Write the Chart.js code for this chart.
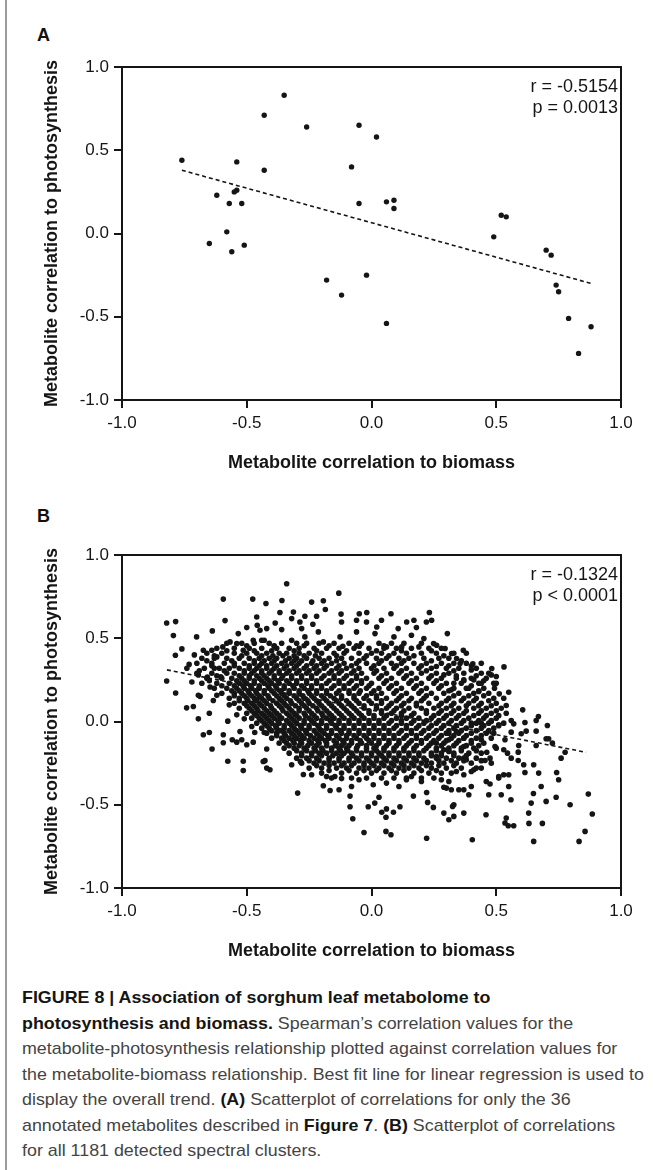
<!DOCTYPE html>
<html>
<head>
<meta charset="utf-8">
<script src="https://cdn.jsdelivr.net/npm/chart.js@4.4.1/dist/chart.umd.min.js"></script>
<style>
  body { margin: 0; background: #fff; width: 655px; height: 1170px; position: relative; overflow: hidden;
         font-family: 'Liberation Sans', Arial, sans-serif; }
  .edge { position: absolute; left: 5px; top: 0; width: 2px; height: 1170px; background: #9c9c9c; }
  canvas { position: absolute; left: 0; }
  .tag { position: absolute; left: 37px; font-weight: bold; font-size: 18px; line-height: 20px; color: #111; }
  #cap { position: absolute; left: 22px; top: 985px; font-size: 17px; line-height: 25.5px; color: #444;
         transform-origin: 0 0; }
  #cap .ln { white-space: nowrap; width: max-content; }
  #cap b { color: #151515; }
</style>
</head>
<body>
<div class="edge"></div>
<div class="tag" style="top:25px">A</div>
<canvas id="chartA" width="655" height="480" style="top:0"></canvas>
<div class="tag" style="top:506px">B</div>
<canvas id="chartB" width="655" height="480" style="top:488px"></canvas>
<div id="cap">
  <div class="ln"><b>FIGURE 8 | Association of sorghum leaf metabolome to</b></div>
  <div class="ln"><b>photosynthesis and biomass.</b> Spearman’s correlation values for the</div>
  <div class="ln">metabolite-photosynthesis relationship plotted against correlation values for</div>
  <div class="ln" id="longest">the metabolite-biomass relationship. Best fit line for linear regression is used to</div>
  <div class="ln">display the overall trend. <b>(A)</b> Scatterplot of correlations for only the 36</div>
  <div class="ln">annotated metabolites described in <b>Figure 7</b>. <b>(B)</b> Scatterplot of correlations</div>
  <div class="ln">for all 1181 detected spectral clusters.</div>
</div>
<script>
// ---- panel A: 36 annotated metabolites ----
const aX = [-0.76, -0.35, -0.43, -0.26, -0.05, 0.02, -0.54, -0.43, -0.08, -0.62, -0.55, -0.54,
            -0.57, -0.52, -0.05, 0.06, 0.09, 0.09, -0.58, -0.65, -0.56, -0.51, 0.52, 0.54,
            0.49, 0.70, 0.72, 0.74, 0.75, -0.18, -0.02, -0.12, 0.06, 0.79, 0.88, 0.83];
const aY = [0.44, 0.83, 0.71, 0.64, 0.65, 0.58, 0.43, 0.38, 0.40, 0.23, 0.25, 0.26,
            0.18, 0.18, 0.18, 0.19, 0.20, 0.15, 0.01, -0.06, -0.11, -0.07, 0.11, 0.10,
            -0.02, -0.10, -0.13, -0.31, -0.35, -0.28, -0.25, -0.37, -0.54, -0.51, -0.56, -0.72];
const fitAX = [-0.76, 0.88];
const fitAY = [0.38, -0.30];
const statsA = ['r = -0.5154', 'p = 0.0013'];

// ---- panel B: all spectral clusters ----
// sparse points around the cloud, [x, y]
const bLeft = [[-0.821,0.592],[-0.785,0.60],[-0.594,0.735],[-0.476,0.735],[-0.587,0.606],[-0.794,0.516],
  [-0.701,0.508],[-0.638,0.544],[-0.76,0.436],[-0.786,0.398],[-0.821,0.243],[-0.785,0.171],[-0.731,0.343],
  [-0.72,0.237],[-0.694,0.28],[-0.674,0.428],[-0.658,0.267],[-0.71,0.40],[-0.687,0.151],[-0.647,0.207],
  [-0.64,0.428],[-0.62,0.388],[-0.63,0.32],[-0.604,0.268],[-0.596,0.448],[-0.567,0.478],[-0.54,0.468],
  [-0.534,0.528],[-0.514,0.428],[-0.5,0.564],[-0.474,0.488],[-0.46,0.628],[-0.458,0.578],[-0.447,0.548],
  [-0.44,0.488],[-0.741,0.082],[-0.714,0.09],[-0.694,0.016],[-0.694,0.157],[-0.65,0.05],[-0.674,-0.08],
  [-0.65,-0.066],[-0.639,-0.165],[-0.594,-0.08],[-0.594,-0.128],[-0.576,0.002],[-0.576,-0.239],[-0.558,-0.11],
  [-0.54,-0.124],[-0.527,-0.06],[-0.52,-0.11],[-0.514,-0.239],[-0.514,-0.295],[-0.5,-0.14],[-0.474,-0.124],
  [-0.468,-0.066],[-0.48,-0.03],[-0.427,-0.235],[-0.42,-0.28],[-0.43,-0.066],[-0.42,-0.165],[-0.634,0.126],
  [-0.62,0.157],[-0.57,0.1],[-0.54,0.04],[-0.51,0.016],[-0.46,0.13]];
const bTop = [[-0.34,0.827],[-0.131,0.771],[-0.423,0.709],[-0.359,0.727],[-0.24,0.717],[-0.193,0.725],
  [-0.185,0.673],[-0.367,0.655],[-0.313,0.657],[-0.32,0.618],[-0.267,0.632],[-0.22,0.632],[-0.122,0.645],
  [-0.049,0.647],[-0.019,0.655],[0.078,0.647],[0.232,0.655],[-0.386,0.592],[-0.42,0.558],[-0.36,0.552],
  [-0.287,0.598],[-0.28,0.558],[-0.235,0.584],[-0.213,0.538],[-0.12,0.598],[-0.126,0.508],[-0.06,0.608],
  [-0.06,0.538],[-0.02,0.598],[0.021,0.568],[0.04,0.608],[0.014,0.528],[0.09,0.508],[0.107,0.558],
  [0.141,0.598],[0.17,0.608],[0.18,0.564],[0.22,0.598],[0.16,0.518],[0.21,0.498],[0.249,0.468],
  [-0.43,0.488],[-0.39,0.452],[-0.32,0.488],[-0.267,0.508],[-0.193,0.478],[-0.115,0.452],[-0.049,0.452],
  [0.06,0.448],[0.121,0.448],[0.19,0.448]];
const bRight = [[0.304,0.528],[0.261,0.458],[0.295,0.438],[0.321,0.408],[0.368,0.428],[0.341,0.378],
  [0.355,0.348],[0.406,0.346],[0.40,0.31],[0.482,0.318],[0.531,0.328],[0.5,0.27],[0.48,0.28],[0.49,0.23],
  [0.493,0.2],[0.512,0.166],[0.55,0.176],[0.44,0.23],[0.41,0.25],[0.37,0.25],[0.39,0.2],[0.33,0.23],
  [0.29,0.28],[0.26,0.33],[0.32,0.19],[0.43,0.18],[0.241,0.608]];
const bBottom = [[-0.296,-0.43],[-0.086,-0.448],[-0.086,-0.512],[-0.075,-0.584],[-0.03,-0.667],[-0.013,-0.512],
  [0.013,-0.49],[0.03,-0.455],[0.041,-0.545],[0.058,-0.575],[0.06,-0.525],[0.088,-0.545],[0.114,-0.512],
  [0.058,-0.66],[0.078,-0.68],[0.168,-0.448],[0.221,-0.701],[0.221,-0.426],[0.248,-0.516],[0.225,-0.486],
  [-0.193,-0.386],[-0.166,-0.414],[-0.13,-0.41],[-0.12,-0.343],[-0.08,-0.39],[-0.05,-0.35],[0.007,-0.38],
  [0.06,-0.37],[0.11,-0.39],[0.14,-0.35],[0.16,-0.33],[0.2,-0.36],[-0.273,-0.318],[-0.24,-0.32],
  [-0.434,-0.24],[-0.407,-0.29],[-0.32,-0.26],[-0.285,-0.24],[-0.18,-0.33],[-0.147,-0.33]];
const bLowerRight = [[0.606,0.07],[0.669,0.03],[0.66,0.006],[0.705,-0.024],[0.70,-0.104],[0.71,-0.104],
  [0.725,-0.13],[0.776,-0.185],[0.76,-0.22],[0.66,-0.144],[0.66,-0.058],[0.615,-0.006],[0.62,-0.058],
  [0.60,-0.074],[0.57,-0.014],[0.56,0.006],[0.54,0.096],[0.56,-0.064],[0.59,-0.144],[0.588,-0.184],
  [0.588,-0.234],[0.61,-0.26],[0.615,-0.306],[0.65,-0.26],[0.67,-0.31],[0.742,-0.306],[0.75,-0.35],
  [0.68,-0.39],[0.649,-0.432],[0.70,-0.48],[0.74,-0.455],[0.64,-0.49],[0.63,-0.55],[0.631,-0.612],
  [0.685,-0.612],[0.796,-0.50],[0.869,-0.436],[0.885,-0.556],[0.856,-0.66],[0.832,-0.72],[0.65,-0.72],
  [0.559,-0.47],[0.55,-0.39],[0.52,-0.44],[0.47,-0.44],[0.46,-0.36],[0.475,-0.375],[0.51,-0.34],
  [0.53,-0.32],[0.55,-0.32],[0.548,-0.626],[0.54,-0.58],[0.535,-0.61],[0.57,-0.626],[0.459,-0.56],
  [0.404,-0.71],[0.39,-0.44],[0.40,-0.39],[0.37,-0.55],[0.37,-0.41],[0.35,-0.41],[0.32,-0.41],
  [0.30,-0.40],[0.29,-0.395],[0.33,-0.57],[0.31,-0.59],[0.29,-0.55],[0.33,-0.50],[0.325,-0.51],
  [0.28,-0.35],[0.31,-0.36],[0.32,-0.31],[0.34,-0.30],[0.37,-0.32],[0.40,-0.30],[0.42,-0.28],
  [0.41,-0.29],[0.51,-0.33],[0.44,-0.11],[0.462,-0.185],[0.455,-0.234],[0.475,-0.22],[0.495,-0.15],
  [0.53,-0.17],[0.545,-0.19],[0.56,-0.22],[0.535,-0.11],[0.48,0.0],[0.51,-0.02],[0.49,-0.07],
  [0.40,-0.01],[0.44,-0.01],[0.37,-0.10],[0.37,-0.15],[0.37,-0.22],[0.38,-0.23],[0.26,-0.21],
  [0.29,-0.17],[0.31,-0.18],[0.26,-0.13],[0.31,-0.07],[0.34,-0.06],[0.31,-0.11]];

// dense core, read row by row: one y level, then the x positions on it
const bRowY = [0.47, 0.44, 0.41, 0.38, 0.35, 0.32, 0.29, 0.26, 0.23, 0.20, 0.17, 0.14, 0.11, 0.08,
               0.05, 0.02, -0.01, -0.04, -0.07, -0.10, -0.13, -0.16, -0.19, -0.22, -0.25, -0.28, -0.31, -0.34];
const bRowX = [
  [-0.58, -0.52, -0.47, -0.41, -0.36, -0.3, -0.26, -0.21, -0.15, -0.09, -0.04, 0.03, 0.08, 0.13, 0.2],
  [-0.62, -0.55, -0.49, -0.44, -0.38, -0.33, -0.29, -0.23, -0.18, -0.13, -0.07, -0.01, 0.05, 0.1, 0.16, 0.23, 0.28],
  [-0.66, -0.6, -0.55, -0.5, -0.46, -0.42, -0.37, -0.34, -0.29, -0.25, -0.2, -0.15, -0.11, -0.05, 0.0, 0.04, 0.09, 0.14, 0.2, 0.26, 0.33, 0.38],
  [-0.68, -0.63, -0.58, -0.53, -0.49, -0.45, -0.41, -0.38, -0.33, -0.3, -0.26, -0.21, -0.17, -0.12, -0.08, -0.03, 0.02, 0.06, 0.11, 0.15, 0.21, 0.27, 0.31],
  [-0.7, -0.64, -0.59, -0.55, -0.51, -0.47, -0.44, -0.4, -0.36, -0.32, -0.29, -0.24, -0.2, -0.16, -0.11, -0.06, -0.02, 0.03, 0.08, 0.12, 0.17, 0.22, 0.28, 0.33, 0.38, 0.44],
  [-0.74, -0.67, -0.61, -0.57, -0.53, -0.49, -0.46, -0.42, -0.39, -0.35, -0.31, -0.27, -0.23, -0.19, -0.14, -0.1, -0.05, 0.0, 0.05, 0.09, 0.14, 0.19, 0.24, 0.3, 0.35, 0.42],
  [-0.7, -0.64, -0.58, -0.55, -0.51, -0.48, -0.44, -0.41, -0.37, -0.34, -0.3, -0.26, -0.22, -0.17, -0.13, -0.08, -0.04, 0.01, 0.06, 0.11, 0.16, 0.2, 0.26, 0.31, 0.37, 0.44, 0.47],
  [-0.66, -0.6, -0.56, -0.52, -0.49, -0.45, -0.42, -0.39, -0.36, -0.32, -0.28, -0.24, -0.2, -0.15, -0.11, -0.06, -0.02, 0.03, 0.08, 0.13, 0.18, 0.23, 0.28, 0.34, 0.4, 0.46],
  [-0.68, -0.62, -0.57, -0.53, -0.5, -0.47, -0.43, -0.4, -0.37, -0.33, -0.3, -0.26, -0.22, -0.18, -0.13, -0.09, -0.04, 0.0, 0.05, 0.1, 0.15, 0.2, 0.25, 0.3, 0.36, 0.43, 0.5],
  [-0.63, -0.58, -0.54, -0.51, -0.48, -0.45, -0.41, -0.38, -0.35, -0.31, -0.27, -0.24, -0.2, -0.16, -0.11, -0.07, -0.02, 0.03, 0.07, 0.12, 0.17, 0.22, 0.27, 0.33, 0.38, 0.45],
  [-0.6, -0.55, -0.52, -0.49, -0.46, -0.43, -0.39, -0.36, -0.33, -0.29, -0.25, -0.22, -0.18, -0.14, -0.09, -0.05, 0.0, 0.04, 0.09, 0.14, 0.19, 0.24, 0.29, 0.35, 0.41, 0.47],
  [-0.57, -0.53, -0.5, -0.47, -0.44, -0.41, -0.37, -0.34, -0.3, -0.27, -0.23, -0.19, -0.15, -0.12, -0.07, -0.03, 0.02, 0.06, 0.11, 0.16, 0.21, 0.26, 0.31, 0.37, 0.42, 0.49, 0.53],
  [-0.55, -0.51, -0.48, -0.45, -0.42, -0.38, -0.35, -0.32, -0.28, -0.25, -0.21, -0.17, -0.13, -0.09, -0.05, 0.0, 0.04, 0.08, 0.13, 0.18, 0.23, 0.28, 0.33, 0.39, 0.44, 0.5],
  [-0.53, -0.49, -0.46, -0.43, -0.4, -0.36, -0.33, -0.29, -0.26, -0.22, -0.19, -0.15, -0.11, -0.07, -0.03, 0.02, 0.06, 0.1, 0.15, 0.2, 0.25, 0.3, 0.35, 0.41, 0.46, 0.52],
  [-0.5, -0.47, -0.44, -0.41, -0.38, -0.34, -0.31, -0.27, -0.24, -0.2, -0.17, -0.13, -0.09, -0.05, -0.01, 0.04, 0.08, 0.12, 0.17, 0.22, 0.27, 0.32, 0.37, 0.43, 0.48, 0.54],
  [-0.48, -0.45, -0.42, -0.39, -0.36, -0.32, -0.29, -0.25, -0.22, -0.18, -0.15, -0.11, -0.07, -0.03, 0.01, 0.05, 0.1, 0.14, 0.19, 0.24, 0.29, 0.34, 0.39, 0.45, 0.5],
  [-0.46, -0.43, -0.4, -0.37, -0.33, -0.3, -0.27, -0.23, -0.2, -0.16, -0.13, -0.09, -0.05, -0.01, 0.03, 0.07, 0.12, 0.16, 0.21, 0.26, 0.31, 0.36, 0.42, 0.47, 0.53],
  [-0.44, -0.41, -0.38, -0.35, -0.31, -0.28, -0.25, -0.21, -0.18, -0.14, -0.11, -0.07, -0.03, 0.01, 0.05, 0.09, 0.14, 0.18, 0.23, 0.28, 0.33, 0.38, 0.44, 0.49],
  [-0.42, -0.38, -0.35, -0.32, -0.29, -0.26, -0.22, -0.19, -0.16, -0.12, -0.09, -0.05, -0.01, 0.03, 0.07, 0.11, 0.16, 0.2, 0.25, 0.3, 0.35, 0.4, 0.46],
  [-0.4, -0.36, -0.33, -0.3, -0.27, -0.23, -0.2, -0.17, -0.13, -0.1, -0.06, -0.02, 0.01, 0.05, 0.09, 0.13, 0.18, 0.22, 0.27, 0.32, 0.37, 0.42, 0.48],
  [-0.37, -0.34, -0.31, -0.28, -0.24, -0.21, -0.18, -0.14, -0.11, -0.08, -0.04, 0.0, 0.03, 0.07, 0.11, 0.15, 0.2, 0.24, 0.29, 0.34, 0.4, 0.45],
  [-0.35, -0.31, -0.27, -0.23, -0.2, -0.16, -0.13, -0.1, -0.06, -0.02, 0.01, 0.05, 0.09, 0.13, 0.17, 0.22, 0.26, 0.31, 0.36, 0.41, 0.5],
  [-0.33, -0.28, -0.24, -0.21, -0.18, -0.14, -0.11, -0.08, -0.04, 0.0, 0.03, 0.07, 0.11, 0.15, 0.19, 0.24, 0.28, 0.33, 0.39, 0.44],
  [-0.3, -0.26, -0.22, -0.17, -0.13, -0.09, -0.06, -0.02, 0.02, 0.05, 0.09, 0.13, 0.17, 0.21, 0.26, 0.3, 0.35, 0.42],
  [-0.28, -0.23, -0.19, -0.15, -0.11, -0.07, -0.03, 0.0, 0.04, 0.08, 0.12, 0.16, 0.2, 0.24, 0.29, 0.34, 0.4, 0.48],
  [-0.25, -0.2, -0.14, -0.1, -0.05, -0.01, 0.03, 0.07, 0.11, 0.15, 0.19, 0.24, 0.3, 0.36, 0.44],
  [-0.2, -0.12, -0.06, 0.0, 0.05, 0.1, 0.17, 0.23, 0.28],
  [-0.16, -0.08, -0.02, 0.04, 0.09, 0.14, 0.2, 0.25]
];
// in-between rows of the core, where the cloud is darkest
const bMidY = [0.455, 0.425, 0.395, 0.365, 0.335, 0.305, 0.275, 0.245, 0.215, 0.185, 0.155, 0.125, 0.095,
               0.065, 0.035, 0.005, -0.025, -0.055, -0.085, -0.115, -0.145, -0.175, -0.205, -0.235, -0.265, -0.295];
const bMidX = [
  [-0.5, -0.39, -0.27, -0.17, -0.06, 0.05],
  [-0.58, -0.47, -0.4, -0.31, -0.22, -0.1, 0.02, 0.12, 0.24],
  [-0.63, -0.52, -0.44, -0.395, -0.355, -0.31, -0.27, -0.225, -0.14, -0.02, 0.07, 0.17, 0.29],
  [-0.66, -0.56, -0.47, -0.43, -0.39, -0.345, -0.31, -0.28, -0.235, -0.19, -0.14, -0.05, 0.04, 0.13, 0.24, 0.36],
  [-0.64, -0.55, -0.49, -0.45, -0.42, -0.38, -0.34, -0.3, -0.26, -0.22, -0.18, -0.13, -0.08, 0.01, 0.1, 0.2, 0.31, 0.4],
  [-0.69, -0.59, -0.51, -0.47, -0.44, -0.4, -0.37, -0.33, -0.29, -0.25, -0.21, -0.16, -0.12, -0.07, 0.02, 0.12, 0.22, 0.33],
  [-0.62, -0.53, -0.49, -0.46, -0.43, -0.39, -0.355, -0.32, -0.28, -0.24, -0.19, -0.15, -0.1, -0.06, 0.04, 0.14, 0.24, 0.34, 0.42],
  [-0.65, -0.54, -0.51, -0.47, -0.44, -0.41, -0.375, -0.34, -0.3, -0.26, -0.22, -0.17, -0.13, -0.08, -0.04, 0.06, 0.16, 0.26, 0.37, 0.45],
  [-0.6, -0.55, -0.515, -0.485, -0.45, -0.415, -0.385, -0.35, -0.315, -0.28, -0.24, -0.2, -0.15, -0.11, -0.06, -0.01, 0.08, 0.18, 0.28, 0.4],
  [-0.56, -0.53, -0.495, -0.465, -0.43, -0.4, -0.365, -0.33, -0.29, -0.255, -0.22, -0.18, -0.13, -0.09, -0.045, 0.01, 0.1, 0.2, 0.31, 0.43],
  [-0.55, -0.51, -0.48, -0.45, -0.415, -0.38, -0.35, -0.31, -0.275, -0.24, -0.2, -0.165, -0.12, -0.07, -0.02, 0.02, 0.12, 0.22, 0.33, 0.39, 0.45],
  [-0.53, -0.495, -0.465, -0.43, -0.395, -0.36, -0.325, -0.29, -0.255, -0.22, -0.18, -0.14, -0.1, -0.06, -0.01, 0.04, 0.1, 0.15, 0.2, 0.3, 0.36, 0.41, 0.47],
  [-0.5, -0.47, -0.44, -0.405, -0.37, -0.34, -0.305, -0.27, -0.235, -0.2, -0.16, -0.12, -0.08, -0.03, 0.02, 0.07, 0.12, 0.18, 0.27, 0.32, 0.38, 0.43, 0.48],
  [-0.48, -0.455, -0.42, -0.39, -0.355, -0.32, -0.29, -0.25, -0.215, -0.18, -0.14, -0.1, -0.06, -0.01, 0.04, 0.09, 0.13, 0.22, 0.28, 0.33, 0.38, 0.44, 0.5],
  [-0.46, -0.43, -0.4, -0.37, -0.33, -0.3, -0.265, -0.23, -0.195, -0.16, -0.12, -0.08, -0.04, 0.01, 0.06, 0.12, 0.16, 0.25, 0.3, 0.35, 0.41, 0.46, 0.51],
  [-0.44, -0.41, -0.375, -0.34, -0.31, -0.27, -0.24, -0.2, -0.165, -0.13, -0.09, -0.05, -0.01, 0.03, 0.08, 0.12, 0.17, 0.22, 0.27, 0.32, 0.37, 0.43, 0.48],
  [-0.42, -0.385, -0.35, -0.32, -0.285, -0.25, -0.215, -0.18, -0.145, -0.11, -0.07, -0.03, 0.01, 0.05, 0.1, 0.14, 0.19, 0.24, 0.29, 0.34, 0.4, 0.45, 0.51],
  [-0.4, -0.365, -0.33, -0.3, -0.265, -0.23, -0.2, -0.16, -0.125, -0.09, -0.05, -0.01, 0.03, 0.07, 0.12, 0.16, 0.21, 0.26, 0.31, 0.36, 0.42, 0.47],
  [-0.38, -0.345, -0.31, -0.28, -0.245, -0.21, -0.175, -0.14, -0.1, -0.07, -0.03, 0.01, 0.05, 0.09, 0.14, 0.18, 0.23, 0.28, 0.33, 0.38, 0.44],
  [-0.35, -0.315, -0.285, -0.25, -0.215, -0.185, -0.15, -0.115, -0.08, -0.045, -0.01, 0.03, 0.07, 0.11, 0.16, 0.2, 0.25, 0.3, 0.35, 0.4],
  [-0.33, -0.29, -0.255, -0.22, -0.18, -0.145, -0.12, -0.09, -0.055, -0.02, 0.02, 0.06, 0.1, 0.14, 0.18, 0.23, 0.28, 0.33, 0.38, 0.43],
  [-0.3, -0.26, -0.225, -0.195, -0.16, -0.125, -0.095, -0.06, -0.02, 0.02, 0.05, 0.09, 0.13, 0.17, 0.21, 0.26, 0.31, 0.36, 0.42],
  [-0.28, -0.24, -0.2, -0.155, -0.12, -0.075, -0.04, 0.0, 0.04, 0.07, 0.11, 0.15, 0.19, 0.24, 0.28, 0.33, 0.38],
  [-0.25, -0.21, -0.17, -0.13, -0.09, -0.05, -0.01, 0.02, 0.06, 0.1, 0.14, 0.18, 0.22, 0.27, 0.32, 0.37, 0.44],
  [-0.22, -0.17, -0.12, -0.08, -0.03, 0.01, 0.05, 0.09, 0.13, 0.17, 0.22, 0.27, 0.33],
  [-0.17, -0.09, -0.03, 0.02, 0.08, 0.13, 0.2, 0.26]
];
const fitBX = [-0.82, 0.86];
const fitBY = [0.31, -0.185];
const statsB = ['r = -0.1324', 'p < 0.0001'];

const xTitle = 'Metabolite correlation to biomass';
const yTitle = 'Metabolite correlation to photosynthesis';

const ink = '#151515';
const fontFamily = "'Liberation Sans', Arial, sans-serif";
Chart.defaults.font.family = fontFamily;

const pairsToPoints = (list) => list.map(p => ({ x: p[0], y: p[1] }));
const tickText = (v) => Number(v).toFixed(1);

// frame box round the plot + r / p text in the top right corner
const framePlugin = {
    id: 'frame',
    afterDatasetsDraw(chart, args, opts) {
        const ctx = chart.ctx;
        const a = chart.chartArea;
        ctx.save();
        ctx.strokeStyle = ink;
        ctx.lineWidth = 2;
        ctx.strokeRect(a.left, a.top, a.right - a.left, a.bottom - a.top);
        ctx.font = '18px ' + fontFamily;
        ctx.fillStyle = ink;
        ctx.textAlign = 'right';
        ctx.textBaseline = 'middle';
        opts.lines.forEach(function (t, i) {
            ctx.fillText(t, a.right - 3, a.top + 20 + i * 21);
        });
        ctx.restore();
    }
};

function axis(title, isX) {
    return {
        type: 'linear',
        min: -1,
        max: 1,
        ticks: { stepSize: 0.5, callback: tickText, color: ink, padding: 5, font: { size: 17 } },
        grid: { drawOnChartArea: false, tickLength: 8, color: ink, lineWidth: 2 },
        border: { color: ink, width: 2 },
        title: {
            display: true,
            text: title,
            color: ink,
            font: { size: 18, weight: 'bold' },
            padding: isX ? { top: 0, bottom: 6 } : { top: 41, bottom: 0 }
        },
        afterFit: isX ? function (s) { s.height = 80; } : function (s) { s.width = 122; }
    };
}

function panel(id, points, radius, fitX, fitY, stats) {
    const fitLine = fitX.map((x, i) => ({ x: x, y: fitY[i] }));
    new Chart(document.getElementById(id), {
        type: 'scatter',
        data: {
            datasets: [{
                data: points,
                backgroundColor: ink,
                borderWidth: 0,
                pointRadius: radius,
                pointHoverRadius: radius
            }, {
                type: 'line',
                data: fitLine,
                showLine: true,
                borderColor: ink,
                borderWidth: 1.6,
                borderDash: [4, 3],
                pointRadius: 0,
                fill: false
            }]
        },
        options: {
            responsive: false,
            animation: false,
            layout: { padding: { left: 0, right: 34, top: 67, bottom: 0 } },
            scales: { x: axis(xTitle, true), y: axis(yTitle, false) },
            plugins: {
                legend: { display: false },
                tooltip: { enabled: false },
                frame: { lines: stats }
            }
        },
        plugins: [framePlugin]
    });
}

const pointsA = aX.map((x, i) => ({ x: x, y: aY[i] }));
let pointsB = [].concat(pairsToPoints(bLeft), pairsToPoints(bTop), pairsToPoints(bRight),
                        pairsToPoints(bBottom), pairsToPoints(bLowerRight));
bRowY.forEach(function (y, r) {
    bRowX[r].forEach(function (x) { pointsB.push({ x: x, y: y }); });
});
bMidY.forEach(function (y, r) {
    bMidX[r].forEach(function (x) { pointsB.push({ x: x, y: y }); });
});

panel('chartA', pointsA, 2.7, fitAX, fitAY, statsA);
panel('chartB', pointsB, 2.8, fitBX, fitBY, statsB);

// squeeze the caption so its longest line spans the same width as in the figure
const cap = document.getElementById('cap');
const longest = document.getElementById('longest').getBoundingClientRect().width;
cap.style.transform = 'scaleX(' + (622 / longest) + ')';
</script>
</body>
</html>
